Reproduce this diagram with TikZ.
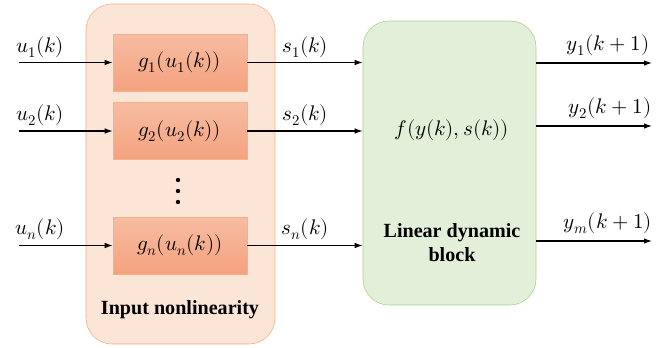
\documentclass[tikz,border=0pt]{standalone}
\usepackage{amsmath}
\usepackage{fontspec}
\usepackage{unicode-math}
\setmainfont{Liberation Serif}
\setmathfont{Latin Modern Math}
\usetikzlibrary{arrows.meta,positioning}
\definecolor{nlfill}{HTML}{FBE5D6}
\definecolor{nldraw}{HTML}{F4B183}
\definecolor{gtop}{HTML}{F7BCA2}
\definecolor{gbot}{HTML}{F4A27F}
\definecolor{linfill}{HTML}{E2F0D9}
\definecolor{lindraw}{HTML}{A9D18E}
\tikzset{
  group/.style={draw=nldraw, fill=nlfill, rounded corners=0.65cm, minimum width=4.725cm, minimum height=8.5cm},
  gblock/.style={draw=nldraw, top color=gtop, bottom color=gbot, minimum width=3.35cm, minimum height=1.425cm, font=\fontsize{15}{17}\selectfont},
  linblock/.style={draw=lindraw, fill=linfill, rounded corners=0.65cm, minimum width=4.325cm, minimum height=7.1cm},
  sig/.style={font=\fontsize{15}{17}\selectfont, inner sep=1pt},
  arr/.style={-{Latex[length=2mm,width=1.4mm]}, line width=0.85pt},
  boldlbl/.style={font=\fontsize{14.3}{17}\selectfont\bfseries, align=center}
}
\begin{document}
\begin{tikzpicture}
\useasboundingbox (0,0) rectangle (16.625,8.675);

\node[group] (nonlin) at (4.5125,4.325) {};
\node[gblock] (g1) at (4.5,7.1125) {$g_1(u_1(k))$};
\node[gblock] (g2) at (4.5,5.4) {$g_2(u_2(k))$};
\node[gblock] (gn) at (4.5,2.5375) {$g_n(u_n(k))$};
\foreach \y in {4.175,3.9,3.625}
  \fill (4.45,\y) circle (0.055);
\node[boldlbl] (nltext) at (4.5,0.925) {Input nonlinearity};

\node[linblock] (lin) at (11.2375,4.6) {};
\node[sig] (f) at (11.3,5.425) {$f(y(k),s(k))$};
\node[boldlbl] (lintext) at (11.3,2.6) {Linear dynamic\\block};

% inputs
\coordinate (in1) at (0.475,7.1125);
\coordinate (in2) at (0.475,5.4);
\coordinate (inn) at (0.475,2.5375);
\draw[arr] (in1) -- (g1);
\draw[arr] (in2) -- (g2);
\draw[arr] (inn) -- (gn);
\node[sig] (u1) at (1.0,7.5) {$u_1(k)$};
\node[sig] (u2) at (1.0,5.8) {$u_2(k)$};
\node[sig] (un) at (1.0,2.95) {$u_n(k)$};

% nonlinearity to linear block
\draw[arr] (g1) -- (g1 -| lin.west);
\draw[arr] (g2) -- (g2 -| lin.west);
\draw[arr] (gn) -- (gn -| lin.west);
\node[sig] (s1) at (7.625,7.5) {$s_1(k)$};
\node[sig] (s2) at (7.625,5.8) {$s_2(k)$};
\node[sig] (sn) at (7.625,2.95) {$s_n(k)$};

% outputs
\coordinate (out1) at (16.3,7.1);
\coordinate (out2) at (16.3,5.525);
\coordinate (outm) at (16.3,2.65);
\draw[arr] (out1 -| lin.east) -- (out1);
\draw[arr] (out2 -| lin.east) -- (out2);
\draw[arr] (outm -| lin.east) -- (outm);
\node[sig] (y1) at (15.2,7.55) {$y_1(k+1)$};
\node[sig] (y2) at (15.25,5.975) {$y_2(k+1)$};
\node[sig] (ym) at (15.2,3.1) {$y_m(k+1)$};
\end{tikzpicture}
\end{document}
